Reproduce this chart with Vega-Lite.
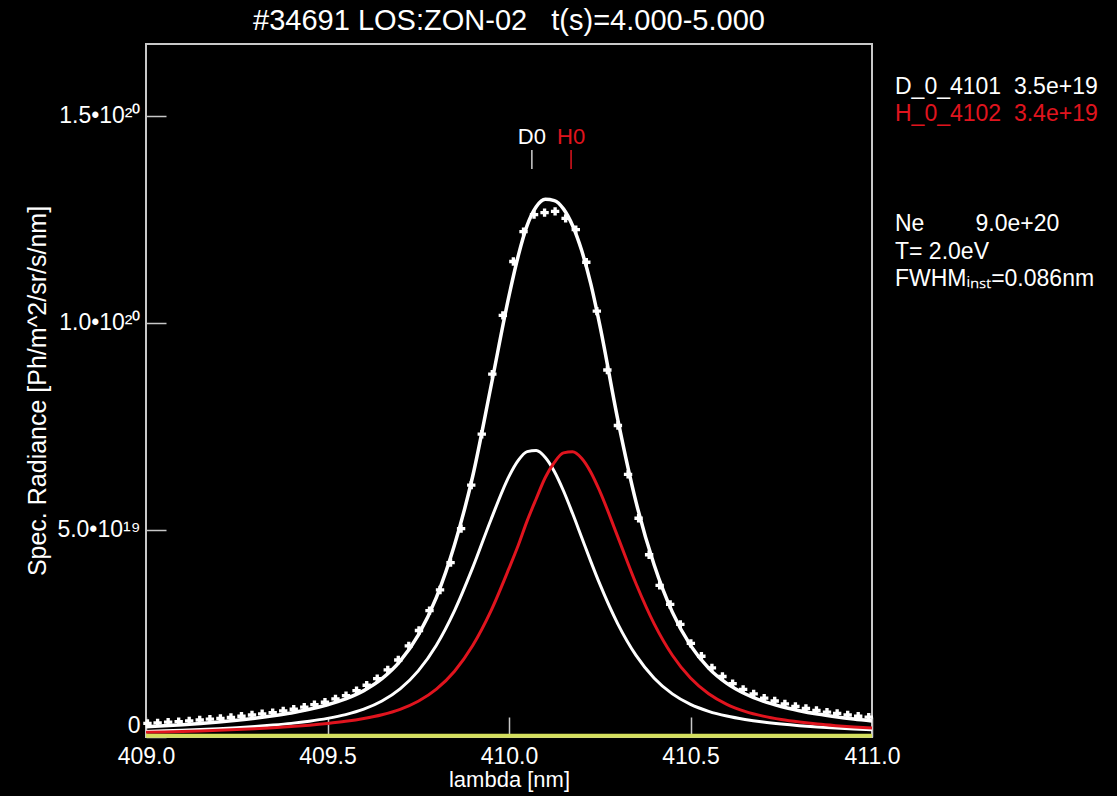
{
  "$schema": "https://vega.github.io/schema/vega-lite/v6.json",
  "width": 726,
  "height": 693,
  "autosize": {"type": "none"},
  "padding": {"left": 146, "top": 44, "right": 245, "bottom": 59},
  "background": "#000000",
  "title": {
    "text": "#34691 LOS:ZON-02\u00a0\u00a0\u00a0t(s)=4.000-5.000",
    "color": "#ffffff",
    "font": "Liberation Sans",
    "fontSize": 29,
    "fontWeight": "normal",
    "anchor": "middle",
    "offset": 8
  },
  "config": {
    "view": {"stroke": "#c8c8c8", "strokeWidth": 2},
    "axis": {
      "domain": false,
      "grid": false,
      "labelColor": "#ffffff",
      "titleColor": "#ffffff",
      "labelFont": "Liberation Sans",
      "titleFont": "Liberation Sans",
      "labelFontSize": 23,
      "titleFontSize": 23,
      "titleFontWeight": "normal",
      "tickColor": "#c8c8c8",
      "tickWidth": 1.5,
      "tickSize": -20,
      "labelOverlap": false
    },
    "axisX": {"labelFlush": false, "labelPadding": 28, "titlePadding": 1, "titleFontSize": 22},
    "axisY": {"labelFlush": true, "labelPadding": 26, "titlePadding": 6, "titleFontSize": 25}
  },
  "datasets": {
    "fits": [
      {"lambda": 409.00, "D": 0.134e19, "H": 0.112e19, "T": 0.246e19},
      {"lambda": 409.05, "D": 0.148e19, "H": 0.122e19, "T": 0.270e19},
      {"lambda": 409.10, "D": 0.163e19, "H": 0.134e19, "T": 0.297e19},
      {"lambda": 409.15, "D": 0.180e19, "H": 0.147e19, "T": 0.327e19},
      {"lambda": 409.20, "D": 0.201e19, "H": 0.162e19, "T": 0.363e19},
      {"lambda": 409.25, "D": 0.225e19, "H": 0.179e19, "T": 0.404e19},
      {"lambda": 409.30, "D": 0.253e19, "H": 0.200e19, "T": 0.453e19},
      {"lambda": 409.35, "D": 0.288e19, "H": 0.224e19, "T": 0.512e19},
      {"lambda": 409.40, "D": 0.329e19, "H": 0.252e19, "T": 0.581e19},
      {"lambda": 409.45, "D": 0.382e19, "H": 0.286e19, "T": 0.668e19},
      {"lambda": 409.50, "D": 0.450e19, "H": 0.328e19, "T": 0.778e19},
      {"lambda": 409.55, "D": 0.541e19, "H": 0.380e19, "T": 0.921e19},
      {"lambda": 409.60, "D": 0.672e19, "H": 0.448e19, "T": 1.120e19},
      {"lambda": 409.65, "D": 0.868e19, "H": 0.539e19, "T": 1.407e19},
      {"lambda": 409.70, "D": 1.161e19, "H": 0.669e19, "T": 1.830e19},
      {"lambda": 409.75, "D": 1.596e19, "H": 0.864e19, "T": 2.460e19},
      {"lambda": 409.80, "D": 2.216e19, "H": 1.156e19, "T": 3.372e19},
      {"lambda": 409.85, "D": 3.051e19, "H": 1.589e19, "T": 4.640e19},
      {"lambda": 409.90, "D": 4.088e19, "H": 2.207e19, "T": 6.295e19},
      {"lambda": 409.95, "D": 5.240e19, "H": 3.038e19, "T": 8.450e19},
      {"lambda": 410.00, "D": 6.291e19, "H": 4.070e19, "T": 10.650e19},
      {"lambda": 410.025, "D": 6.670e19, "H": 4.617e19, "T": 11.600e19},
      {"lambda": 410.05, "D": 6.889e19, "H": 5.218e19, "T": 12.350e19},
      {"lambda": 410.075, "D": 6.916e19, "H": 5.752e19, "T": 12.800e19},
      {"lambda": 410.10, "D": 6.749e19, "H": 6.264e19, "T": 12.980e19},
      {"lambda": 410.125, "D": 6.411e19, "H": 6.629e19, "T": 12.950e19},
      {"lambda": 410.15, "D": 5.945e19, "H": 6.859e19, "T": 12.750e19},
      {"lambda": 410.175, "D": 5.400e19, "H": 6.886e19, "T": 12.350e19},
      {"lambda": 410.20, "D": 4.823e19, "H": 6.730e19, "T": 11.750e19},
      {"lambda": 410.225, "D": 4.246e19, "H": 6.399e19, "T": 10.950e19},
      {"lambda": 410.25, "D": 3.695e19, "H": 5.938e19, "T": 9.950e19},
      {"lambda": 410.30, "D": 2.726e19, "H": 4.825e19, "T": 7.650e19},
      {"lambda": 410.35, "D": 1.970e19, "H": 3.700e19, "T": 5.670e19},
      {"lambda": 410.40, "D": 1.420e19, "H": 2.731e19, "T": 4.151e19},
      {"lambda": 410.45, "D": 1.041e19, "H": 1.974e19, "T": 3.015e19},
      {"lambda": 410.50, "D": 0.788e19, "H": 1.423e19, "T": 2.211e19},
      {"lambda": 410.55, "D": 0.620e19, "H": 1.043e19, "T": 1.663e19},
      {"lambda": 410.60, "D": 0.505e19, "H": 0.789e19, "T": 1.294e19},
      {"lambda": 410.65, "D": 0.423e19, "H": 0.620e19, "T": 1.043e19},
      {"lambda": 410.70, "D": 0.361e19, "H": 0.504e19, "T": 0.865e19},
      {"lambda": 410.75, "D": 0.313e19, "H": 0.422e19, "T": 0.735e19},
      {"lambda": 410.80, "D": 0.274e19, "H": 0.361e19, "T": 0.635e19},
      {"lambda": 410.85, "D": 0.243e19, "H": 0.312e19, "T": 0.555e19},
      {"lambda": 410.90, "D": 0.216e19, "H": 0.274e19, "T": 0.490e19},
      {"lambda": 410.95, "D": 0.193e19, "H": 0.242e19, "T": 0.435e19},
      {"lambda": 411.00, "D": 0.174e19, "H": 0.215e19, "T": 0.389e19}
    ],
    "measured": [
      {"lambda": 409.004, "radiance": 0.33e19},
      {"lambda": 409.032, "radiance": 0.34e19},
      {"lambda": 409.061, "radiance": 0.36e19},
      {"lambda": 409.090, "radiance": 0.37e19},
      {"lambda": 409.119, "radiance": 0.39e19},
      {"lambda": 409.148, "radiance": 0.41e19},
      {"lambda": 409.176, "radiance": 0.43e19},
      {"lambda": 409.205, "radiance": 0.45e19},
      {"lambda": 409.234, "radiance": 0.47e19},
      {"lambda": 409.263, "radiance": 0.50e19},
      {"lambda": 409.292, "radiance": 0.53e19},
      {"lambda": 409.320, "radiance": 0.56e19},
      {"lambda": 409.349, "radiance": 0.59e19},
      {"lambda": 409.378, "radiance": 0.63e19},
      {"lambda": 409.407, "radiance": 0.67e19},
      {"lambda": 409.436, "radiance": 0.72e19},
      {"lambda": 409.464, "radiance": 0.78e19},
      {"lambda": 409.493, "radiance": 0.84e19},
      {"lambda": 409.522, "radiance": 0.92e19},
      {"lambda": 409.551, "radiance": 1.00e19},
      {"lambda": 409.580, "radiance": 1.12e19},
      {"lambda": 409.608, "radiance": 1.25e19},
      {"lambda": 409.637, "radiance": 1.41e19},
      {"lambda": 409.666, "radiance": 1.62e19},
      {"lambda": 409.695, "radiance": 1.86e19},
      {"lambda": 409.724, "radiance": 2.20e19},
      {"lambda": 409.752, "radiance": 2.57e19},
      {"lambda": 409.781, "radiance": 3.05e19},
      {"lambda": 409.810, "radiance": 3.55e19},
      {"lambda": 409.839, "radiance": 4.21e19},
      {"lambda": 409.868, "radiance": 5.03e19},
      {"lambda": 409.896, "radiance": 6.08e19},
      {"lambda": 409.925, "radiance": 7.31e19},
      {"lambda": 409.954, "radiance": 8.76e19},
      {"lambda": 409.983, "radiance": 10.18e19},
      {"lambda": 410.012, "radiance": 11.48e19},
      {"lambda": 410.040, "radiance": 12.20e19},
      {"lambda": 410.069, "radiance": 12.61e19},
      {"lambda": 410.098, "radiance": 12.66e19},
      {"lambda": 410.127, "radiance": 12.69e19},
      {"lambda": 410.156, "radiance": 12.52e19},
      {"lambda": 410.184, "radiance": 12.25e19},
      {"lambda": 410.213, "radiance": 11.46e19},
      {"lambda": 410.242, "radiance": 10.28e19},
      {"lambda": 410.271, "radiance": 8.86e19},
      {"lambda": 410.300, "radiance": 7.52e19},
      {"lambda": 410.328, "radiance": 6.34e19},
      {"lambda": 410.357, "radiance": 5.28e19},
      {"lambda": 410.386, "radiance": 4.40e19},
      {"lambda": 410.415, "radiance": 3.66e19},
      {"lambda": 410.444, "radiance": 3.20e19},
      {"lambda": 410.472, "radiance": 2.72e19},
      {"lambda": 410.501, "radiance": 2.26e19},
      {"lambda": 410.530, "radiance": 1.95e19},
      {"lambda": 410.559, "radiance": 1.67e19},
      {"lambda": 410.588, "radiance": 1.46e19},
      {"lambda": 410.616, "radiance": 1.29e19},
      {"lambda": 410.645, "radiance": 1.15e19},
      {"lambda": 410.674, "radiance": 1.04e19},
      {"lambda": 410.703, "radiance": 0.94e19},
      {"lambda": 410.732, "radiance": 0.87e19},
      {"lambda": 410.760, "radiance": 0.80e19},
      {"lambda": 410.789, "radiance": 0.74e19},
      {"lambda": 410.818, "radiance": 0.69e19},
      {"lambda": 410.847, "radiance": 0.64e19},
      {"lambda": 410.876, "radiance": 0.60e19},
      {"lambda": 410.904, "radiance": 0.57e19},
      {"lambda": 410.933, "radiance": 0.53e19},
      {"lambda": 410.962, "radiance": 0.50e19},
      {"lambda": 410.991, "radiance": 0.48e19}
    ],
    "lines": [
      {"name": "D0", "center": 410.063},
      {"name": "H0", "center": 410.171}
    ]
  },
  "layer": [
    {
      "data": {"name": "fits"},
      "transform": [{"fold": ["D", "H"], "as": ["series", "radiance"]}],
      "mark": {"type": "line", "strokeWidth": 3, "interpolate": "monotone"},
      "encoding": {
        "x": {
          "field": "lambda", "type": "quantitative",
          "scale": {"domain": [409, 411], "nice": false, "zero": false},
          "axis": {"values": [409, 409.5, 410, 410.5, 411], "format": ".1f"},
          "title": "lambda [nm]"
        },
        "y": {
          "field": "radiance", "type": "quantitative",
          "scale": {"domain": [0, 1.673e20], "nice": false, "zero": false},
          "axis": {
            "values": [0, 5e19, 1e20, 1.5e20],
            "labelExpr": "datum.value == 0 ? '0' : datum.value == 5e19 ? '5.0\u202210\u00b9\u2079' : datum.value == 1e20 ? '1.0\u202210\u00b2\u2070' : '1.5\u202210\u00b2\u2070'"
          },
          "title": "Spec. Radiance [Ph/m^2/sr/s/nm]"
        },
        "color": {
          "field": "series", "type": "nominal",
          "scale": {
            "domain": ["D", "H", "b1", "b2", "b3", "Ne", "T", "FWHM"],
            "range": ["#ffffff", "#e0141e", "#000000", "#000000", "#000000", "#000000", "#000000", "#000000"]
          },
          "legend": {
            "orient": "none",
            "legendX": 726,
            "legendY": 31,
            "title": null,
            "values": ["D", "H", "b1", "b2", "b3", "Ne", "T", "FWHM"],
            "symbolSize": 0,
            "symbolOpacity": 0,
            "symbolStrokeWidth": 0,
            "labelOffset": 0,
            "labelFont": "Liberation Sans",
            "labelFontSize": 23,
            "labelColor": "#ffffff",
            "labelLimit": 0,
            "rowPadding": 3.5,
            "labelExpr": "datum.value == 'D' ? 'D_0_4101\u00a0\u00a03.5e+19' : datum.value == 'H' ? 'H_0_4102\u00a0\u00a03.4e+19' : datum.value == 'Ne' ? 'Ne\u00a0\u00a0\u00a0\u00a0\u00a0\u00a0\u00a0\u00a09.0e+20' : datum.value == 'T' ? 'T= 2.0eV' : datum.value == 'FWHM' ? 'FWHM\u1d62\u2099\u209b\u209c=0.086nm' : ''",
            "encode": {
              "labels": {"update": {"fill": {"signal": "datum.value === 'H' ? '#e0141e' : '#ffffff'"}}}
            }
          }
        }
      }
    },
    {
      "data": {"name": "fits"},
      "mark": {"type": "line", "color": "#ffffff", "strokeWidth": 3.5, "interpolate": "monotone"},
      "encoding": {
        "x": {"field": "lambda", "type": "quantitative", "title": "lambda [nm]"},
        "y": {"field": "T", "type": "quantitative", "title": "Spec. Radiance [Ph/m^2/sr/s/nm]"}
      }
    },
    {
      "data": {"name": "measured"},
      "mark": {"type": "point", "shape": "cross", "filled": true, "color": "#ffffff", "size": 70, "opacity": 1},
      "encoding": {
        "x": {"field": "lambda", "type": "quantitative", "title": "lambda [nm]"},
        "y": {"field": "radiance", "type": "quantitative", "title": "Spec. Radiance [Ph/m^2/sr/s/nm]"}
      }
    },
    {
      "data": {"name": "fits"},
      "mark": {"type": "line", "color": "#d4df5c", "strokeWidth": 4},
      "encoding": {
        "x": {"field": "lambda", "type": "quantitative", "title": "lambda [nm]"},
        "y": {"datum": 3e17, "type": "quantitative"}
      }
    },
    {
      "data": {"name": "lines"},
      "mark": {"type": "rule", "strokeWidth": 1.5},
      "encoding": {
        "x": {"field": "center", "type": "quantitative"},
        "y": {"datum": 1.371e20, "type": "quantitative"},
        "y2": {"datum": 1.417e20},
        "color": {"condition": {"test": "datum.name == 'H0'", "value": "#e0141e"}, "value": "#d0d0d0"}
      }
    },
    {
      "data": {"name": "lines"},
      "mark": {"type": "text", "font": "Liberation Sans", "fontSize": 22, "baseline": "middle", "align": "center"},
      "encoding": {
        "x": {"field": "center", "type": "quantitative"},
        "y": {"datum": 1.449e20, "type": "quantitative"},
        "text": {"field": "name"},
        "color": {"condition": {"test": "datum.name == 'H0'", "value": "#e0141e"}, "value": "#ffffff"}
      }
    }
  ]
}
